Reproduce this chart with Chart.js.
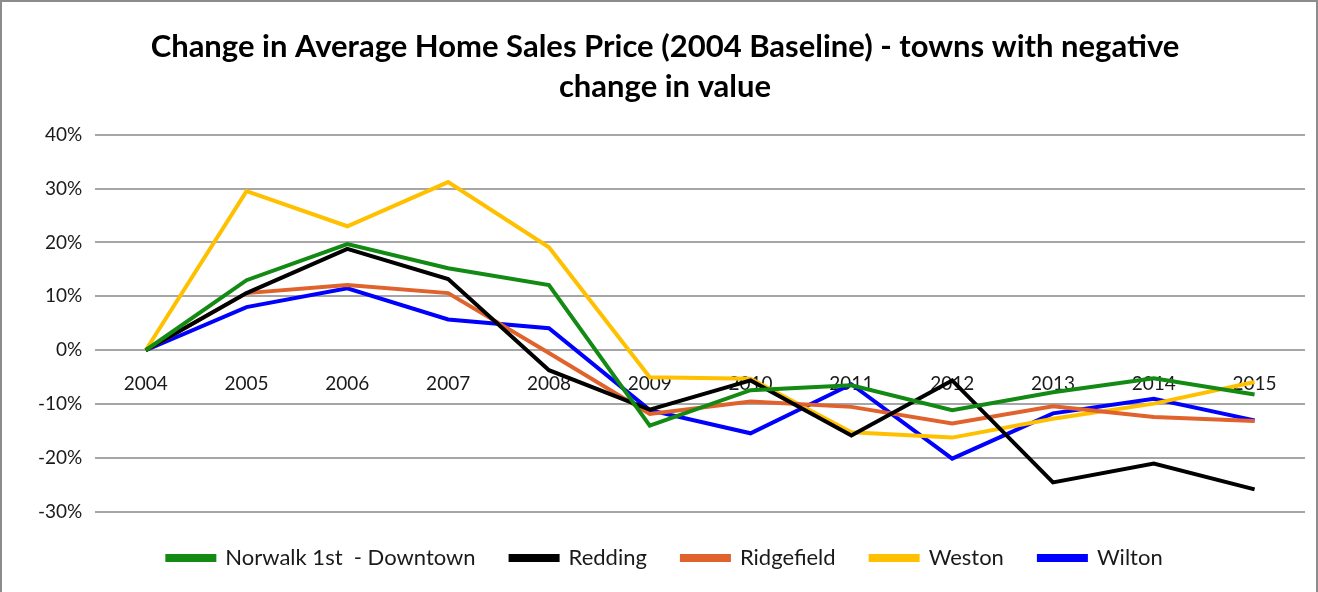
<!DOCTYPE html>
<html>
<head>
<meta charset="utf-8">
<script src="https://cdn.jsdelivr.net/npm/chart.js@4.4.1/dist/chart.umd.min.js"></script>
<style>
  html, body { margin: 0; padding: 0; background: #ffffff; }
  #marco {
    width: 1318px; height: 592px; box-sizing: border-box;
    border: 2px solid #8c8c8c; border-bottom: none; position: relative;
  }
  #grafico { display: block; }
</style>
</head>
<body>
<div id="marco"><canvas id="grafico" width="1314" height="590"></canvas></div>
<script>
// Datos (porcentaje de cambio respecto a 2004)
var anios = ['2004', '2005', '2006', '2007', '2008', '2009', '2010', '2011', '2012', '2013', '2014', '2015'];
var norwalk    = [0, 13.0, 19.7, 15.2, 12.1, -14.0, -7.4, -6.5, -11.1, -7.8, -5.2, -8.2];
var redding    = [0, 10.6, 18.8, 13.2, -3.7, -11.0, -5.6, -15.8, -5.6, -24.5, -21.0, -25.8];
var ridgefield = [0, 10.6, 12.1, 10.6, -0.5, -11.8, -9.5, -10.5, -13.6, -10.4, -12.4, -13.1];
var weston     = [0, 29.5, 23.0, 31.2, 19.1, -5.0, -5.3, -15.2, -16.2, -12.7, -9.9, -5.9];
var wilton     = [0, 8.0, 11.5, 5.7, 4.1, -11.1, -15.4, -6.3, -20.1, -11.7, -9.0, -13.0];
var ticksY = [40, 30, 20, 10, 0, -10, -20, -30];

var fuente = "Lato, 'Open Sans', sans-serif";

function serie(nombre, datos, color) {
    return {
        label: nombre,
        data: datos,
        borderColor: color,
        backgroundColor: color,
        borderWidth: 4,
        pointRadius: 0,
        tension: 0,
        fill: false
    };
}

var ctx = document.getElementById('grafico').getContext('2d');
var myChart = new Chart(ctx, {
    type: 'line',
    data: {
        labels: anios,
        datasets: [
            serie('Norwalk 1st  - Downtown', norwalk, '#138a13'),
            serie('Redding', redding, '#000000'),
            serie('Ridgefield', ridgefield, '#e0622c'),
            serie('Weston', weston, '#ffc000'),
            serie('Wilton', wilton, '#0000ff')
        ]
    },
    options: {
        responsive: false,
        animation: false,
        layout: {
            padding: { left: 23, right: 11, top: 25, bottom: 13 }
        },
        plugins: {
            title: {
                display: true,
                text: ['Change in Average Home Sales Price (2004 Baseline) - towns with negative', 'change in value'],
                color: '#000000',
                font: { family: fuente, size: 31, weight: 'bold', lineHeight: 1.3 },
                padding: { top: 0, bottom: 27 }
            },
            legend: {
                display: true,
                position: 'bottom',
                labels: {
                    color: '#1a1a1a',
                    font: { family: fuente, size: 22 },
                    boxWidth: 47,
                    boxHeight: 4,
                    padding: 35
                }
            },
            tooltip: { enabled: false }
        },
        scales: {
            x: {
                position: { y: 0 },
                offset: true,
                grid: { display: false, drawTicks: false },
                border: { display: false },
                ticks: {
                    color: '#1a1a1a',
                    font: { family: fuente, size: 19 },
                    padding: 22,
                    maxRotation: 0
                }
            },
            y: {
                min: -30,
                max: 40,
                afterBuildTicks: function (escala) {
                    escala.ticks = ticksY.map(function (v) { return { value: v }; });
                },
                grid: { color: '#a6a6a6', lineWidth: 2, drawTicks: false },
                border: { display: false },
                ticks: {
                    color: '#1a1a1a',
                    font: { family: fuente, size: 19 },
                    padding: 13,
                    callback: function (v) { return v + '%'; }
                }
            }
        }
    }
});
</script>
</body>
</html>
